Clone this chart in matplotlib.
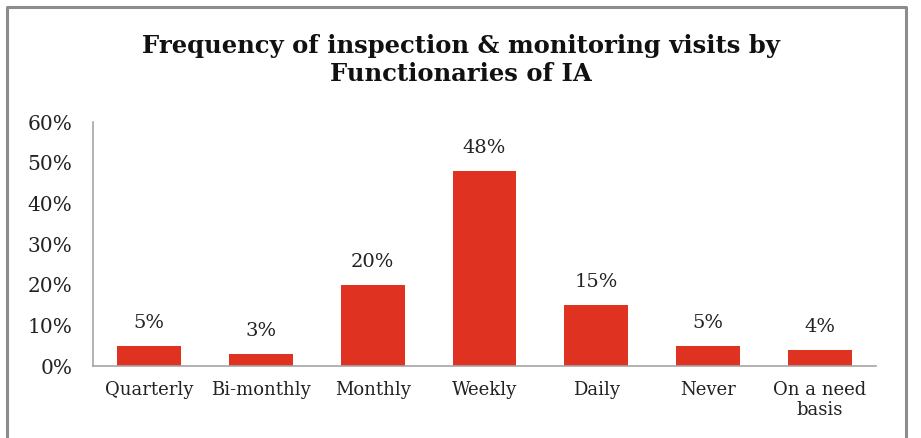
import matplotlib.pyplot as plt
from matplotlib.lines import Line2D

categories = ['Quarterly', 'Bi-monthly', 'Monthly', 'Weekly', 'Daily', 'Never', 'On a need\nbasis']
shares = [5, 3, 20, 48, 15, 5, 4]
y_ticks = [0, 10, 20, 30, 40, 50, 60]

plt.rcParams['font.family'] = ['DejaVu Serif']

fig = plt.figure(figsize=(9.21, 4.38), dpi=100)
ax = fig.add_axes([93 / 921, 1 - 366 / 438, (876 - 93) / 921, (366 - 122) / 438])

x = range(len(categories))
bars = ax.bar(x, shares, width=0.57, color='#e03220')
for b, v in zip(bars, shares):
    ax.annotate(f'{v}%', (b.get_x() + b.get_width() / 2, v), xytext=(0, 10),
                textcoords='offset points', ha='center', va='bottom', fontsize=14, color='#222222')

ax.set_xlim(-0.5, len(categories) - 0.5)
ax.set_ylim(0, 60)
ax.set_yticks(y_ticks)
ax.set_yticklabels([f'{t}%' for t in y_ticks], fontsize=14.5, color='#222222')
ax.set_xticks(list(x))
ax.set_xticklabels(categories, fontsize=13, color='#222222', linespacing=1.15)
ax.tick_params(axis='both', length=0)
ax.tick_params(axis='x', pad=11)
ax.tick_params(axis='y', pad=15)
for s in ['top', 'right']:
    ax.spines[s].set_visible(False)
for s in ['left', 'bottom']:
    ax.spines[s].set_color('#a6a6a6')
    ax.spines[s].set_linewidth(1.2)

fig.text(0.5, 1 - 60 / 438, 'Frequency of inspection & monitoring visits by\nFunctionaries of IA',
         ha='center', va='center', fontsize=17.5, fontweight='bold', linespacing=1.25, color='#111111')

# open frame around the chart (no bottom edge)
fx = [7 / 921, 7 / 921, 906 / 921, 906 / 921]
fy = [0, 1 - 7 / 438, 1 - 7 / 438, 0]
fig.add_artist(Line2D(fx, fy, transform=fig.transFigure, color='#8c8c8c', lw=2.2))

fig.savefig('out.png', dpi=100)
